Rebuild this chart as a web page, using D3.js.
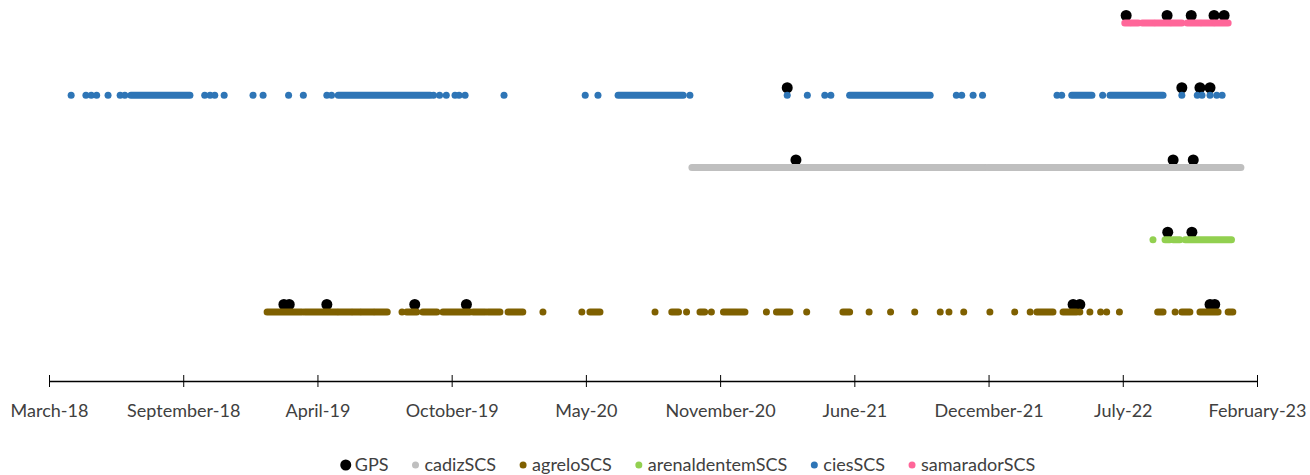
<!DOCTYPE html>
<html>
<head>
<meta charset="utf-8">
<script src="https://cdn.jsdelivr.net/npm/d3@7"></script>
<style>
body { margin: 0; background: #fff; }
text { font-family: Lato, "Open Sans", sans-serif; fill: #404040; }
</style>
</head>
<body>
<div id="chart"></div>
<script>
// dates are Excel serials (days since 1899-12-30); a pair [a, b] is a run of daily records
var stations = ["samaradorSCS", "ciesSCS", "cadizSCS", "arenaldentemSCS", "agreloSCS"];
var legendOrder = ["GPS", "cadizSCS", "agreloSCS", "arenaldentemSCS", "ciesSCS", "samaradorSCS"];
var colors = {
    GPS: "#000000",
    cadizSCS: "#bfbfbf",
    agreloSCS: "#7f6000",
    arenaldentemSCS: "#92d050",
    ciesSCS: "#2e75b6",
    samaradorSCS: "#ff6699"
};
var tickStart = 43160, tickStep = 200;
var tickLabels = ["March-18", "September-18", "April-19", "October-19", "May-20",
    "November-20", "June-21", "December-21", "July-22", "February-23"];

var samaradorSCS = [[44763, 44770], [44773, 44783], [44789, 44806], [44809, 44830], [44833, 44848],
    [44856, 44875], [44878, 44895], [44898, 44917]];

var ciesSCS = [43193, 43215, 43223, 43231, 43248, 43266, 43273, [43282, 43370],
    43392, 43400, 43407, 43421, 43464, 43479, 43517, 43539, 43574, 43581, [43591, 43728],
    43733, 43742, 43752, 43765, 43771, 43780, 43838, 43959, 43978, [44008, 44105], 44115,
    44260, 44290, 44316, 44325, [44353, 44473], 44512, 44520, 44537, 44551,
    44662, 44669, [44684, 44714], 44730, [44741, 44820], 44848, 44871, 44878, 44890, 44900, 44908];

var cadizSCS = [[44118, 44556], [44559, 44936]];

var arenaldentemSCS = [44805, [44823, 44830], [44835, 44845], [44853, 44922]];

var agreloSCS = [[43485, 43537], [43541, 43589], [43592, 43610], [43613, 43623], [43626, 43643], [43646, 43664],
    43686, [43693, 43708], [43717, 43738], [43747, 43787], [43792, 43810], [43814, 43832], [43844, 43866],
    43896, 43954, [43966, 43981], 44063, [44088, 44098], 44110, [44130, 44137], 44147,
    [44165, 44197], 44229, [44244, 44264], 44289, [44343, 44353], 44382, 44414, 44450,
    44488, 44501, 44523, 44562, 44599, 44622, [44632, 44656], [44671, 44691], 44696,
    44711, 44727, 44736, 44755, [44812, 44820], 44838, [44848, 44860], [44875, 44902], [44917, 44924]];

var GPS = [["agreloSCS", 43510], ["agreloSCS", 43518], ["agreloSCS", 43574], ["agreloSCS", 43705],
    ["agreloSCS", 43782], ["agreloSCS", 44686], ["agreloSCS", 44696], ["agreloSCS", 44890], ["agreloSCS", 44897],
    ["arenaldentemSCS", 44827], ["arenaldentemSCS", 44863],
    ["cadizSCS", 44273], ["cadizSCS", 44835], ["cadizSCS", 44865],
    ["ciesSCS", 44260], ["ciesSCS", 44848], ["ciesSCS", 44875], ["ciesSCS", 44890],
    ["samaradorSCS", 44765], ["samaradorSCS", 44826], ["samaradorSCS", 44862], ["samaradorSCS", 44896], ["samaradorSCS", 44911]];

var records = {
    samaradorSCS: samaradorSCS, ciesSCS: ciesSCS, cadizSCS: cadizSCS,
    arenaldentemSCS: arenaldentemSCS, agreloSCS: agreloSCS
};

var width = 1310, height = 475,
    dotR = 3.5, gpsR = 5.5, gpsLift = 7.5;

function toDate(serial) {
    return new Date(Date.UTC(1899, 11, 30) + serial * 864e5);
}

var svg = d3.select("#chart").append("svg")
    .attr("width", width)
    .attr("height", height);

var x = d3.scaleTime()
    .domain([toDate(tickStart), toDate(tickStart + tickStep * (tickLabels.length - 1))])
    .range([49, 1257]);

var y = d3.scalePoint()
    .domain(stations)
    .range([23, 312]);

// GPS fixes first, station records drawn over them
svg.append("g").selectAll("circle")
    .data(GPS)
    .enter().append("circle")
    .attr("cx", function (d) { return x(toDate(d[1])); })
    .attr("cy", function (d) { return y(d[0]) - gpsLift; })
    .attr("r", gpsR)
    .style("fill", colors.GPS);

stations.slice().reverse().forEach(function (s) {
    var g = svg.append("g");
    var items = records[s].map(function (d) { return Array.isArray(d) ? d : [d, d]; });
    g.selectAll("line")
        .data(items.filter(function (d) { return d[0] !== d[1]; }))
        .enter().append("line")
        .attr("x1", function (d) { return x(toDate(d[0])); })
        .attr("x2", function (d) { return x(toDate(d[1])); })
        .attr("y1", y(s))
        .attr("y2", y(s))
        .attr("stroke", colors[s])
        .attr("stroke-width", dotR * 2)
        .attr("stroke-linecap", "round");
    g.selectAll("circle")
        .data(items.filter(function (d) { return d[0] === d[1]; }))
        .enter().append("circle")
        .attr("cx", function (d) { return x(toDate(d[0])); })
        .attr("cy", y(s))
        .attr("r", dotR)
        .style("fill", colors[s]);
});

var tickDates = tickLabels.map(function (d, i) { return toDate(tickStart + i * tickStep); });

var axis = svg.append("g")
    .attr("transform", "translate(0,381)")
    .call(d3.axisBottom(x).tickValues(tickDates)
        .tickFormat(function (d, i) { return tickLabels[i]; })
        .tickSizeOuter(0));
axis.select(".domain").attr("stroke", "#000").attr("stroke-width", 1.5);
axis.selectAll(".tick line").attr("y1", -6).attr("y2", 6).attr("stroke", "#000");
axis.selectAll(".tick text")
    .attr("y", 23)
    .attr("dy", "0.71em")
    .style("font-size", "18px")
    .style("fill", "#404040")
    .style("font-family", "Lato, sans-serif");

// legend
var legend = svg.append("g").attr("transform", "translate(0,465)");
var pos = 0, gap = 27;
var items = legend.selectAll("g")
    .data(legendOrder)
    .enter().append("g");
items.append("circle")
    .attr("r", function (d) { return d === "GPS" ? gpsR : dotR; })
    .style("fill", function (d) { return colors[d]; });
items.append("text")
    .attr("x", 9)
    .attr("dy", "0.35em")
    .style("font-size", "18px")
    .text(function (d) { return d; });
items.each(function () {
    var w = d3.select(this).select("text").node().getComputedTextLength();
    d3.select(this).attr("transform", "translate(" + pos + ",0)");
    pos += 9 + w + gap;
});
pos -= gap;
legend.attr("transform", "translate(" + (343 + (695 - pos) / 2) + ",465)");
</script>
</body>
</html>
